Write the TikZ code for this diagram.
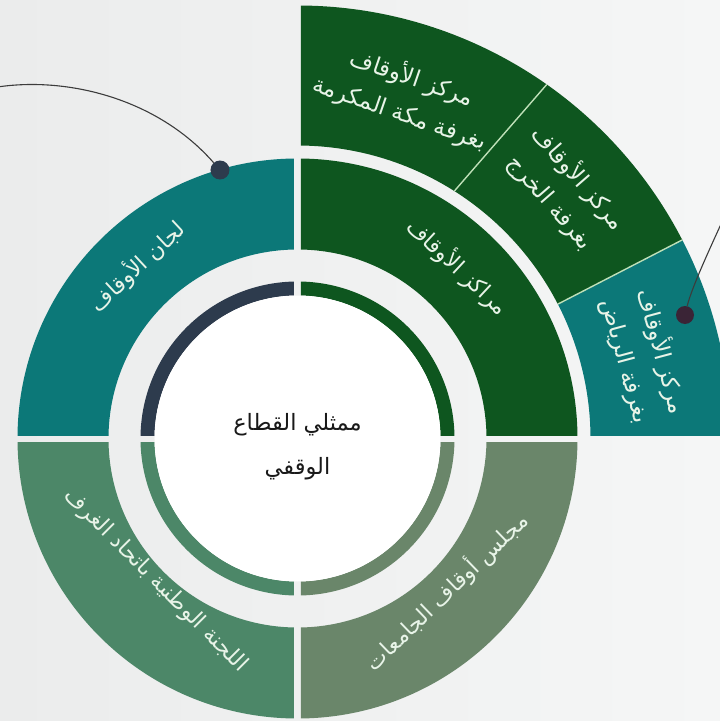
\documentclass[tikz,border=0pt]{standalone}
\usepackage{fontspec}
\newfontfamily\arabicfont[Script=Arabic]{DejaVu Sans}
\TeXXeTstate=1
\definecolor{dkgreen}{HTML}{0E561F}
\definecolor{tealseg}{HTML}{0C7878}
\definecolor{sage}{HTML}{4C8768}
\definecolor{graygreen}{HTML}{6A866A}
\definecolor{navy}{HTML}{2D3B4D}
\definecolor{bgleft}{HTML}{EBECEC}
\definecolor{bgright}{HTML}{F5F6F6}
\definecolor{lbltext}{HTML}{E8F4E8}
\definecolor{divline}{HTML}{BFE0B8}
\definecolor{dotred}{HTML}{3A2436}
\definecolor{conncol}{HTML}{3C3C3C}
\begin{document}
\begin{tikzpicture}[x=1pt,y=1pt,
  lbl/.style={font=\arabicfont\fontsize{22}{37}\selectfont, text=lbltext, align=center, inner sep=0pt},
  outerlbl/.style={lbl, font=\arabicfont\fontsize{23}{37}\selectfont},
  centerlbl/.style={font=\arabicfont\fontsize{22.5}{44}\selectfont, text=black!90, align=center, inner sep=0pt},
  conn/.style={draw=conncol, line width=1.1pt},
  dotnode/.style={circle, inner sep=0pt, minimum size=19pt}]
\useasboundingbox (-297.5,-282.5) rectangle (422.5,438.5);
\clip (-297.5,-282.5) rectangle (422.5,438.5);
\shade[left color=bgleft, right color=bgright] (-297.5,-282.5) rectangle (422.5,438.5);
\def\g{3.5}
% top-left quadrant
\begin{scope}
  \clip (-\g,\g) rectangle (-400,500);
  \fill[tealseg, even odd rule] (0,0) circle[radius=280] (0,0) circle[radius=189];
  \fill[navy, even odd rule] (0,0) circle[radius=157] (0,0) circle[radius=143];
\end{scope}
% top-right quadrant
\begin{scope}
  \clip (\g,\g) rectangle (500,500);
  \fill[dkgreen, even odd rule] (0,0) circle[radius=280] (0,0) circle[radius=189];
  \fill[dkgreen, even odd rule] (0,0) circle[radius=157] (0,0) circle[radius=143];
  \fill[dkgreen] (27.3:293) -- (27.3:433) arc[start angle=27.3, end angle=90, radius=433]
     -- (90:293) arc[start angle=90, end angle=27.3, radius=293] -- cycle;
  \fill[tealseg] (0:293) -- (0:433) arc[start angle=0, end angle=27.3, radius=433]
     -- (27.3:293) arc[start angle=27.3, end angle=0, radius=293] -- cycle;
\end{scope}
% dividers in the outer band
\begin{scope}
  \clip (0,0) circle[radius=433];
  \draw[divline, line width=1.4pt] (27.3:293) -- (27.3:440);
  \draw[divline, line width=1.4pt] (157,247.6) -- (254,359.5);
\end{scope}
% bottom-left quadrant
\begin{scope}
  \clip (-\g,-\g) rectangle (-400,-400);
  \fill[sage, even odd rule] (0,0) circle[radius=280] (0,0) circle[radius=189];
  \fill[sage, even odd rule] (0,0) circle[radius=157] (0,0) circle[radius=143];
\end{scope}
% bottom-right quadrant
\begin{scope}
  \clip (\g,-\g) rectangle (400,-400);
  \fill[graygreen, even odd rule] (0,0) circle[radius=280] (0,0) circle[radius=189];
  \fill[graygreen, even odd rule] (0,0) circle[radius=157] (0,0) circle[radius=143];
\end{scope}
\fill[white] (0,0) circle[radius=143];

% labels
\node[centerlbl] (center) at (0,-8) {\beginR ممثلي القطاع\endR\\\beginR الوقفي\endR};
\node[lbl, rotate=43] (lijan) at (133:235) {\beginR لجان الأوقاف\endR};
\node[lbl, rotate=-43] (marakiz) at (47:235) {\beginR مراكز الأوقاف\endR};
\node[lbl, rotate=-45] (lajna) at (-142,-142) {\beginR اللجنة الوطنية باتحاد الغرف\endR};
\node[lbl, rotate=44] (majlis) at (149,-153) {\beginR مجلس أوقاف الجامعات\endR};
\node[outerlbl, rotate=-19] (makkah) at (108.5,343.5) {\beginR مركز الأوقاف\endR\\\beginR بغرفة مكة المكرمة\endR};
\node[outerlbl, rotate=-49] (kharj) at (267.5,248.5) {\beginR مركز الأوقاف\endR\\\beginR بغرفة الخرج\endR};
\node[outerlbl, rotate=-75] (riyadh) at (346.5,82.5) {\beginR مركز الأوقاف\endR\\\beginR بغرفة الرياض\endR};

% connectors
\node[dotnode, fill=navy] (ldot) at (-77.5,268.5) {};
\node[dotnode, fill=dotred, minimum size=18pt] (rdot) at (387.5,123.5) {};
\coordinate (lfree) at (-300,351.5);
\coordinate (rfree) at (427,222);
\draw[conn] (lfree) .. controls (-230,362) and (-140,340) .. (ldot);
\draw[conn] (rdot) .. controls (394,150) and (410,185) .. (rfree);
\end{tikzpicture}
\end{document}
